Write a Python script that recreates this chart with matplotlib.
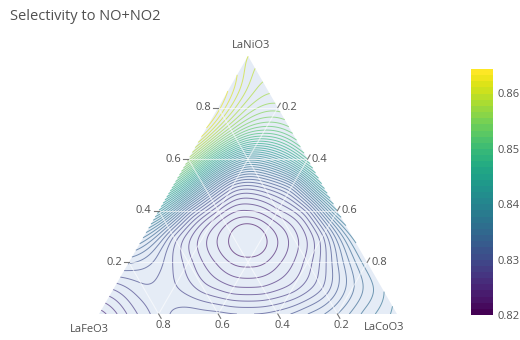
import numpy as np
import matplotlib
matplotlib.use("Agg")
import matplotlib.pyplot as plt
import matplotlib.tri as mtri
from matplotlib.colors import Normalize
from matplotlib.cm import ScalarMappable

plt.rcParams['font.family'] = ['Open Sans', 'DejaVu Sans']

TITLE = "Selectivity to NO+NO2"
A_NAME = "LaNiO3"   # top corner
B_NAME = "LaFeO3"   # bottom left corner
C_NAME = "LaCoO3"   # bottom right corner

# selectivity read on a 0.1 ternary lattice: one row per LaNiO3 fraction
# (0 .. 1), entries over LaCoO3 fraction 0, 0.1, ... up to 1 - LaNiO3
rows = [
    [0.8235, 0.8262, 0.8285, 0.8295, 0.8293, 0.8290, 0.8295, 0.8310, 0.8330, 0.8355, 0.8375],
    [0.8272, 0.8288, 0.8282, 0.8265, 0.8252, 0.8252, 0.8265, 0.8290, 0.8328, 0.8358],
    [0.8312, 0.8295, 0.8265, 0.8238, 0.8226, 0.8238, 0.8265, 0.8310, 0.8358],
    [0.8352, 0.8290, 0.8245, 0.8217, 0.8217, 0.8245, 0.8288, 0.8362],
    [0.8418, 0.8320, 0.8260, 0.8240, 0.8258, 0.8295, 0.8390],
    [0.8500, 0.8385, 0.8300, 0.8298, 0.8335, 0.8438],
    [0.8575, 0.8465, 0.8395, 0.8420, 0.8490],
    [0.8625, 0.8545, 0.8510, 0.8530],
    [0.8635, 0.8580, 0.8565],
    [0.8625, 0.8590],
    [0.8610],
]
# extra reading at the minimum: (LaNiO3, LaCoO3, selectivity)
extra_a = [0.29]
extra_c = [0.355]
extra_v = [0.8205]

axis_ticks = [0.2, 0.4, 0.6, 0.8]
cbar_ticks = [0.82, 0.83, 0.84, 0.85, 0.86]
vmin, vmax = 0.82, 0.8644
levels = np.arange(0.8220, 0.8645, 0.001)

TXT = "#505050"
BG = "#E5ECF6"
H = np.sqrt(3) / 2
PX = 1 / 298.0  # one pixel in triangle units


def to_xy(a, c):
    return c + a / 2.0, a * H


def tps_kernel(r):
    with np.errstate(divide="ignore", invalid="ignore"):
        k = r ** 2 * np.log(r)
    return np.nan_to_num(k)


xs, ys, zs = [], [], []
for i, row in enumerate(rows):
    for j, v in enumerate(row):
        x, y = to_xy(i / 10.0, j / 10.0)
        xs.append(x)
        ys.append(y)
        zs.append(v)
for a, c, v in zip(extra_a, extra_c, extra_v):
    x, y = to_xy(a, c)
    xs.append(x)
    ys.append(y)
    zs.append(v)
xs, ys, zs = np.array(xs), np.array(ys), np.array(zs)

# smoothing thin-plate spline through the readings (plotly's ternary
# contour also interpolates the scattered compositions)
n = len(xs)
dist = np.hypot(xs[:, None] - xs[None, :], ys[:, None] - ys[None, :])
P = np.column_stack([np.ones(n), xs, ys])
A = np.zeros((n + 3, n + 3))
A[:n, :n] = tps_kernel(dist) + 3e-4 * np.eye(n)
A[:n, n:] = P
A[n:, :n] = P.T
rhs = np.concatenate([zs - zs.mean(), np.zeros(3)])
sol = np.linalg.solve(A, rhs)
w, coef = sol[:n], sol[n:]

tri = mtri.Triangulation(xs, ys)
tri_f = mtri.UniformTriRefiner(tri).refine_triangulation(subdiv=4)
fx, fy = tri_f.x, tri_f.y
fd = np.hypot(fx[:, None] - xs[None, :], fy[:, None] - ys[None, :])
z_f = tps_kernel(fd) @ w + coef[0] + coef[1] * fx + coef[2] * fy + zs.mean()

fig = plt.figure(figsize=(5.2, 3.4), dpi=100)
ax = fig.add_axes([99 / 520, (340 - 314) / 340, 298 / 520, 258 / 340])
ax.set_xlim(0, 1)
ax.set_ylim(0, H)
ax.set_aspect("equal")
ax.axis("off")

ax.fill([0, 1, 0.5], [0, 0, H], color=BG, zorder=0, lw=0)

norm = Normalize(vmin=vmin, vmax=vmax)
ax.tricontour(tri_f, z_f, levels=levels, cmap="viridis", norm=norm,
              linewidths=0.7, alpha=0.65, zorder=2)

# grid lines, on top like plotly ternary
for v in axis_ticks:
    g = dict(color="white", lw=0.8, alpha=0.6, zorder=3)
    ax.plot([v / 2, 1 - v / 2], [v * H, v * H], **g)                     # LaNiO3
    ax.plot([1 - v, (1 - v) / 2], [0, (1 - v) * H], **g)                  # LaFeO3
    ax.plot([v, v + (1 - v) / 2], [0, (1 - v) * H], **g)                  # LaCoO3

tick_kw = dict(color="#777777", lw=0.8, clip_on=False, zorder=4)
L = 5 * PX
for v in axis_ticks:
    lab = f"{v:.1f}"
    # left edge: LaNiO3 fraction
    x0, y0 = v / 2, v * H
    ax.plot([x0, x0 - L], [y0, y0], **tick_kw)
    ax.annotate(lab, (x0, y0), xytext=(-7, 0), textcoords="offset pixels",
                ha="right", va="center", fontsize=8, color=TXT)
    # right edge: LaCoO3 fraction
    x0, y0 = to_xy(1 - v, v)
    ax.plot([x0, x0 + L * 0.5], [y0, y0 + L * H], **tick_kw)
    ax.annotate(lab, (x0, y0), xytext=(4, 0), textcoords="offset pixels",
                ha="left", va="center", fontsize=8, color=TXT)
    # bottom edge: LaFeO3 fraction
    x0, y0 = 1 - v, 0
    ax.plot([x0, x0 + L * 0.5], [y0, y0 - L * H], **tick_kw)
    ax.annotate(lab, (x0, y0), xytext=(4.5, -12), textcoords="offset pixels",
                ha="center", va="center", fontsize=8, color=TXT)

fig.text(89 / 520, 1 - 329 / 340, B_NAME, ha="center", va="center",
         fontsize=8, color=TXT)
fig.text(384 / 520, 1 - 327 / 340, C_NAME, ha="center", va="center",
         fontsize=8, color=TXT)
fig.text(251 / 520, 1 - 45 / 340, A_NAME, ha="center", va="center",
         fontsize=8, color=TXT)
fig.text(10 / 520, 1 - 17 / 340, TITLE, ha="left", va="center",
         fontsize=10.5, color=TXT)

# colorbar
cax = fig.add_axes([471 / 520, (340 - 315) / 340, 22 / 520, 246 / 340])
sm = ScalarMappable(norm=norm, cmap=plt.get_cmap("viridis", 40))
cb = fig.colorbar(sm, cax=cax, ticks=cbar_ticks)
cb.outline.set_visible(False)
cb.ax.tick_params(length=0, pad=3, labelsize=8, labelcolor=TXT)
cb.ax.set_yticklabels([f"{t:.2f}" for t in cbar_ticks])

fig.savefig("out.png", dpi=100)
